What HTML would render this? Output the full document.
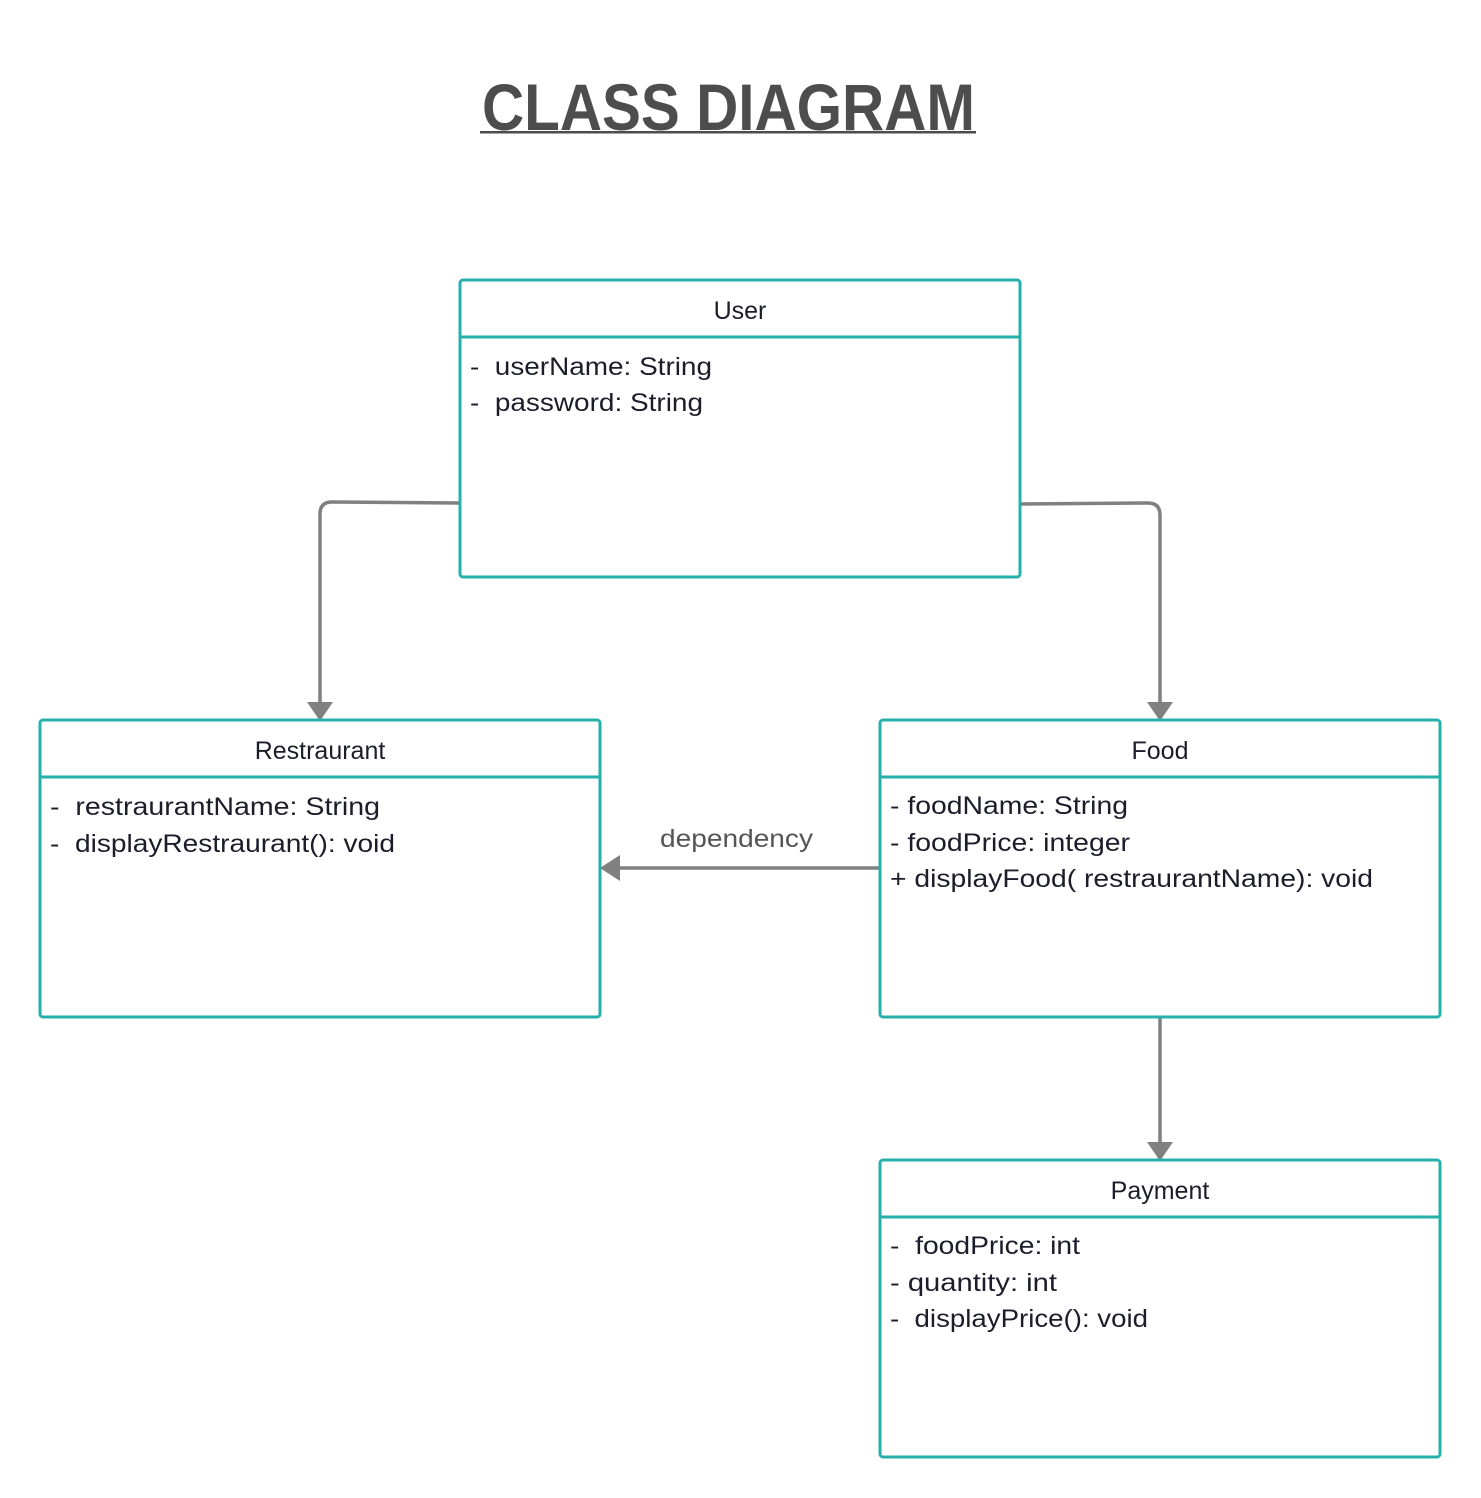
<!DOCTYPE html>
<html><head><meta charset="utf-8"><style>
html,body{margin:0;padding:0;background:#fff;}
svg{display:block;}
text{font-family:"Liberation Sans",sans-serif;white-space:pre;}
.t{font-size:25px;fill:#1c1c2b;}
.h{font-size:25px;fill:#1c1c2b;}
</style></head><body>
<svg width="1481" height="1498" viewBox="0 0 1481 1498" xmlns="http://www.w3.org/2000/svg" xml:space="preserve">
<rect width="1481" height="1498" fill="#fff"/>
<text x="482" y="130" font-size="66" font-weight="bold" fill="#4d4d4d" textLength="493" lengthAdjust="spacingAndGlyphs">CLASS DIAGRAM</text>
<rect x="480" y="131" width="496" height="2.5" fill="#4d4d4d"/>

<g fill="none" stroke="#808080" stroke-width="3.5">
<path d="M460 503 L332 502 Q320 502 320 514 L320 706"/>
<path d="M1020 504 L1148 503 Q1160 503 1160 515 L1160 706"/>
<path d="M1160 1017 L1160 1146"/>
<path d="M880 868 L616 868"/>
</g>
<g fill="#808080">
<polygon points="307,702 333,702 320,721"/>
<polygon points="1147,702 1173,702 1160,721"/>
<polygon points="1147,1142 1173,1142 1160,1161"/>
<polygon points="620,855 620,881 600,868"/>
</g>

<g fill="#fff" stroke="#26b0ab" stroke-width="3">
<rect x="460" y="280" width="560" height="297" rx="3"/>
<rect x="40" y="720" width="560" height="297" rx="3"/>
<rect x="880" y="720" width="560" height="297" rx="3"/>
<rect x="880" y="1160" width="560" height="297" rx="3"/>
<path d="M460 337H1020M40 777H600M880 777H1440M880 1217H1440"/>
</g>

<text class="h" x="740" y="319" text-anchor="middle">User</text>
<text class="t" x="470" y="375" textLength="242" lengthAdjust="spacingAndGlyphs">-  userName: String</text>
<text class="t" x="470" y="411" textLength="233" lengthAdjust="spacingAndGlyphs">-  password: String</text>

<text class="h" x="320" y="759" text-anchor="middle">Restraurant</text>
<text class="t" x="50" y="815" textLength="330" lengthAdjust="spacingAndGlyphs">-  restraurantName: String</text>
<text class="t" x="50" y="852" textLength="345" lengthAdjust="spacingAndGlyphs">-  displayRestraurant(): void</text>

<text class="h" x="1160" y="759" text-anchor="middle">Food</text>
<text class="t" x="890" y="814" textLength="238" lengthAdjust="spacingAndGlyphs">- foodName: String</text>
<text class="t" x="890" y="851" textLength="240" lengthAdjust="spacingAndGlyphs">- foodPrice: integer</text>
<text class="t" x="890" y="887" textLength="483" lengthAdjust="spacingAndGlyphs">+ displayFood( restraurantName): void</text>

<text x="660" y="847" font-size="25" fill="#555" textLength="153" lengthAdjust="spacingAndGlyphs">dependency</text>

<text class="h" x="1160" y="1199" text-anchor="middle">Payment</text>
<text class="t" x="890" y="1254" textLength="190" lengthAdjust="spacingAndGlyphs">-  foodPrice: int</text>
<text class="t" x="890" y="1291" textLength="167" lengthAdjust="spacingAndGlyphs">- quantity: int</text>
<text class="t" x="890" y="1327" textLength="258" lengthAdjust="spacingAndGlyphs">-  displayPrice(): void</text>
</svg>
</body></html>
